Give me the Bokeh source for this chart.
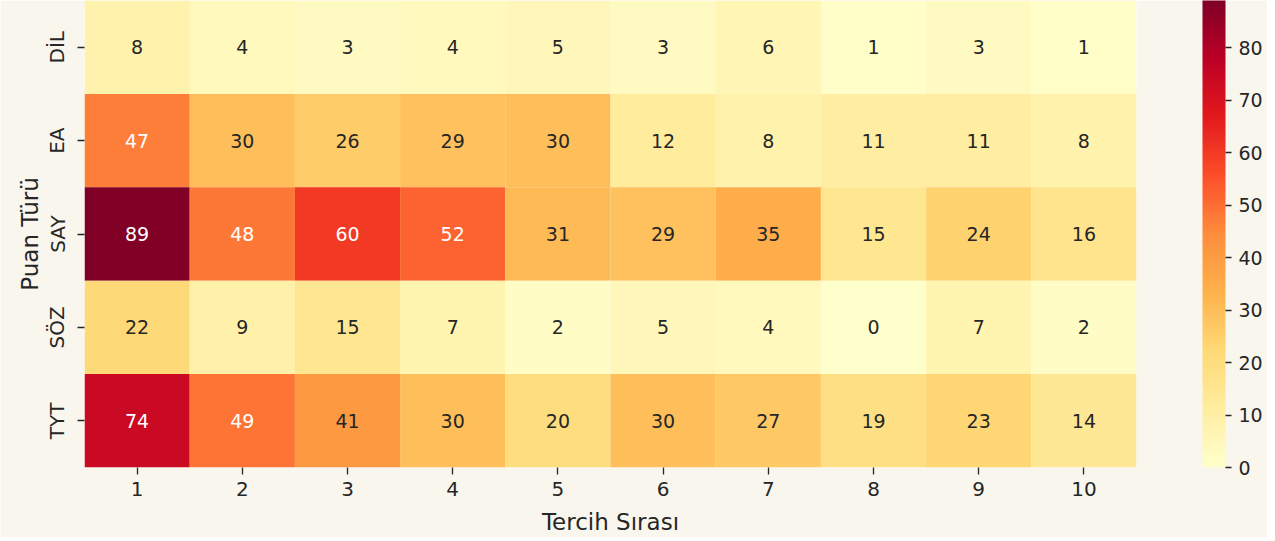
import numpy as np
from bokeh.plotting import figure
from bokeh.models import ColumnDataSource, LinearColorMapper, ColorBar, FixedTicker
from bokeh.core.properties import value
from bokeh.embed import file_html
from bokeh.resources import INLINE

# ---- data ----
rows = ["DİL", "EA", "SAY", "SÖZ", "TYT"]
cols = ["1", "2", "3", "4", "5", "6", "7", "8", "9", "10"]
dil = [8, 4, 3, 4, 5, 3, 6, 1, 3, 1]
ea = [47, 30, 26, 29, 30, 12, 8, 11, 11, 8]
say = [89, 48, 60, 52, 31, 29, 35, 15, 24, 16]
soz = [22, 9, 15, 7, 2, 5, 4, 0, 7, 2]
tyt = [74, 49, 41, 30, 20, 30, 27, 19, 23, 14]
table = [dil, ea, say, soz, tyt]
cbar_ticks = [0, 10, 20, 30, 40, 50, 60, 70, 80]

BG = "#f9f6ee"
FONT = "DejaVu Sans"
INK = "#262626"

# YlOrRd (matplotlib-like) interpolated palette
base = ["#ffffcc", "#ffeda0", "#fed976", "#feb24c", "#fd8d3c",
        "#fc4e2a", "#e31a1c", "#bd0026", "#800026"]
def h2rgb(h):
    return np.array([int(h[i:i + 2], 16) for i in (1, 3, 5)], dtype=float) / 255.0
base_rgb = np.array([h2rgb(c) for c in base])
xs = np.linspace(0, 1, len(base))
t = np.linspace(0, 1, 256)
pal_rgb = np.stack([np.interp(t, xs, base_rgb[:, k]) for k in range(3)], axis=1)
palette = ["#%02x%02x%02x" % tuple(int(round(v * 255)) for v in c) for c in pal_rgb]

vmin, vmax = 0, max(max(r) for r in table)

def rel_lum(rgb):
    c = np.where(rgb <= 0.03928, rgb / 12.92, ((rgb + 0.055) / 1.055) ** 2.4)
    return 0.2126 * c[0] + 0.7152 * c[1] + 0.0722 * c[2]

xcol, yrow, vals, labels, tcolors = [], [], [], [], []
for r, rowvals in zip(rows, table):
    for c, v in zip(cols, rowvals):
        xcol.append(c)
        yrow.append(r)
        vals.append(v)
        labels.append(str(v))
        idx = int(round((v - vmin) / (vmax - vmin) * 255))
        tcolors.append(INK if rel_lum(pal_rgb[idx]) > 0.408 else "#ffffff")

src = ColumnDataSource(dict(x=xcol, y=yrow, v=vals, label=labels, tc=tcolors))
mapper = LinearColorMapper(palette=palette, low=vmin, high=vmax)

FW, FH = 1052, 467
p = figure(frame_width=FW, frame_height=FH, x_range=cols, y_range=list(reversed(rows)),
           output_backend="svg", toolbar_location=None,
           min_border_left=84, min_border_top=0, min_border_bottom=0,
           min_border_right=131, background_fill_color=BG,
           border_fill_color=BG, outline_line_color=None)

p.rect(x="x", y="y", width=1, height=1, source=src,
       fill_color={"field": "v", "transform": mapper}, line_color=None)
p.text(x="x", y="y", text="label", source=src, text_color="tc",
       text_align="center", text_baseline="middle",
       text_font=value(FONT), text_font_size="19px")

p.grid.visible = False
for ax in (p.xaxis[0], p.yaxis[0]):
    ax.axis_line_color = None
    ax.major_tick_line_color = INK
    ax.major_tick_line_width = 1.3
    ax.major_tick_out = 7
    ax.major_tick_in = 0
    ax.minor_tick_line_color = None
    ax.major_label_text_font = FONT
    ax.major_label_text_font_size = "20px"
    ax.major_label_text_color = INK
    ax.axis_label_text_font = FONT
    ax.axis_label_text_font_size = "23px"
    ax.axis_label_text_font_style = "normal"
    ax.axis_label_text_color = INK
p.xaxis.axis_label = "Tercih Sırası"
p.yaxis.axis_label = "Puan Türü"
p.yaxis.major_label_orientation = "vertical"
p.xaxis.major_label_standoff = 7
p.xaxis.axis_label_standoff = 10
p.yaxis.major_label_standoff = 8
p.yaxis.axis_label_standoff = 0

cb = ColorBar(color_mapper=mapper, width=23, height=FH, padding=0, margin=0,
              location=(FW + 66, 0),
              ticker=FixedTicker(ticks=cbar_ticks),
              major_tick_out=6, major_tick_in=0,
              major_tick_line_color=INK, major_tick_line_width=1.3,
              minor_tick_line_color=None,
              major_label_text_font=FONT, major_label_text_font_size="19px",
              major_label_text_color=INK,
              bar_line_color=None, border_line_color=None,
              background_fill_color=None, background_fill_alpha=0,
              label_standoff=7)
p.add_layout(cb, "center")

open("out.html", "w").write(file_html(p, INLINE))
